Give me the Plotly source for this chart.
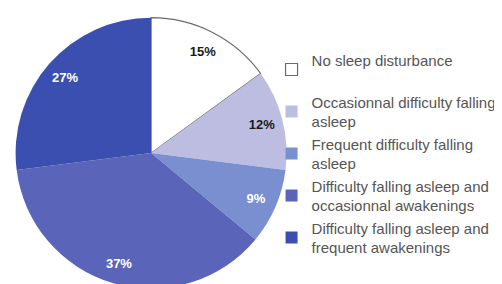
import plotly.graph_objects as go

labels = [
    "No sleep disturbance<br> ",
    "Occasionnal difficulty falling<br>asleep",
    "Frequent difficulty falling<br>asleep",
    "Difficulty falling asleep and<br>occasionnal awakenings",
    "Difficulty falling asleep and<br>frequent awakenings",
]
values = [15, 12, 9, 37, 27]
colors = ["#ffffff", "#bcbde0", "#7a8fcf", "#5a64b8", "#3a4fb0"]
edge_colors = ["#6a6a6a", "#bcbde0", "#7a8fcf", "#5a64b8", "#3a4fb0"]
text_colors = ["#1a1a1a", "#1a1a1a", "#ffffff", "#ffffff", "#ffffff"]

dom = dict(x=[0.0, 0.57], y=[0.012, 0.966])

fig = go.Figure()
# Base pie (colours + legend)
fig.add_trace(go.Pie(
    labels=labels,
    values=values,
    sort=False,
    direction="clockwise",
    rotation=0,
    marker=dict(colors=colors, line=dict(color=edge_colors, width=[1.2, 0, 0, 0, 0])),
    textinfo="none",
    domain=dom,
    hoverinfo="label+percent",
))
# Overlay ring carrying the percentage labels near the rim
fig.add_trace(go.Pie(
    labels=labels,
    values=values,
    sort=False,
    direction="clockwise",
    rotation=0,
    hole=0.69,
    marker=dict(colors=["rgba(0,0,0,0)"] * len(values), line=dict(width=0)),
    texttemplate="%{value}%",
    textposition="inside",
    insidetextorientation="horizontal",
    textfont=dict(family="Liberation Sans, Arial", size=13, color=text_colors, weight="bold"),
    domain=dom,
    showlegend=False,
    hoverinfo="skip",
))

fig.update_layout(
    width=502, height=284,
    margin=dict(l=0, r=0, t=0, b=0),
    paper_bgcolor="white",
    plot_bgcolor="white",
    showlegend=True,
    legend=dict(
        x=0.525, y=0.875, xanchor="left", yanchor="top",
        font=dict(family="Liberation Sans, Arial", size=15, color="#555555"),
        itemwidth=30,
        tracegroupgap=0,
        bgcolor="rgba(0,0,0,0)",
    ),
)

fig.write_html("out.html")
